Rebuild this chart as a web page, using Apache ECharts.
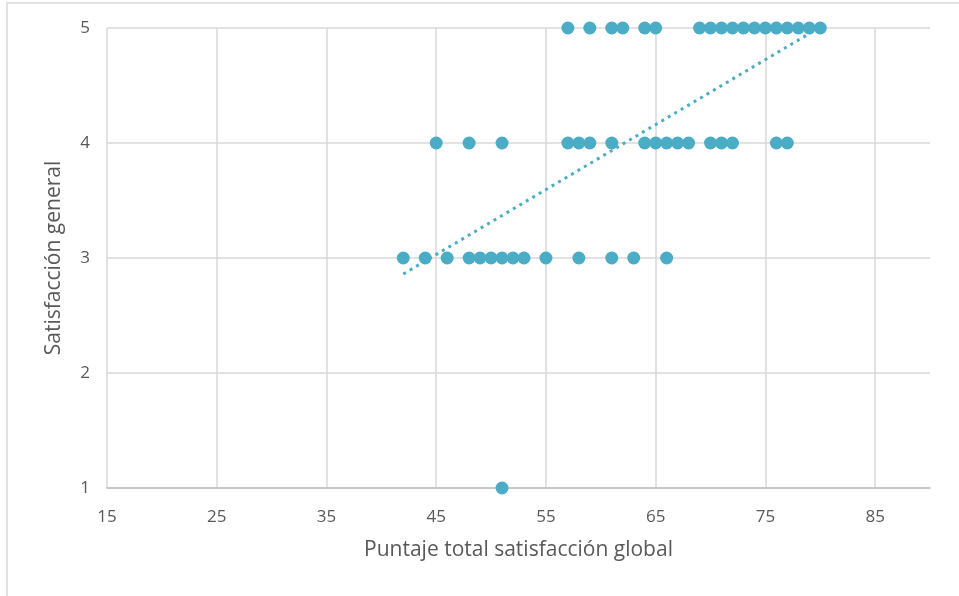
<!DOCTYPE html>
<html>
<head>
<meta charset="utf-8">
<script src="https://cdn.jsdelivr.net/npm/echarts@6/dist/echarts.min.js"></script>
<style>
  html, body { margin: 0; padding: 0; background: #ffffff; }
  #chart { width: 959px; height: 596px; }
</style>
</head>
<body>
<div id="chart"></div>
<script>
// Survey answers: total global-satisfaction score vs. overall satisfaction rating
const puntajeTotal = [
  57, 59, 61, 62, 64, 65, 69, 70, 71, 72, 73, 74, 75, 76, 77, 78, 79, 80,
  45, 48, 51, 57, 58, 59, 61, 64, 65, 66, 67, 68, 70, 71, 72, 76, 77,
  42, 44, 46, 48, 49, 50, 51, 52, 53, 55, 58, 61, 63, 66,
  51
];
const satisfaccionGeneral = [
  5, 5, 5, 5, 5, 5, 5, 5, 5, 5, 5, 5, 5, 5, 5, 5, 5, 5,
  4, 4, 4, 4, 4, 4, 4, 4, 4, 4, 4, 4, 4, 4, 4, 4, 4,
  3, 3, 3, 3, 3, 3, 3, 3, 3, 3, 3, 3, 3, 3,
  1
];
const xAxisTitle = 'Puntaje total satisfacción global';
const yAxisTitle = 'Satisfacción general';

const points = puntajeTotal.map((x, i) => [x, satisfaccionGeneral[i]]);

// Least-squares linear trend over the points, spanning the observed x range
function linearTrend(xs, ys) {
  const n = xs.length;
  const mx = xs.reduce((a, b) => a + b, 0) / n;
  const my = ys.reduce((a, b) => a + b, 0) / n;
  let sxy = 0, sxx = 0;
  for (let i = 0; i < n; i++) {
    sxy += (xs[i] - mx) * (ys[i] - my);
    sxx += (xs[i] - mx) * (xs[i] - mx);
  }
  const slope = sxy / sxx;
  const intercept = my - slope * mx;
  const x0 = Math.min(...xs), x1 = Math.max(...xs);
  return [[x0, intercept + slope * x0], [x1, intercept + slope * x1]];
}
const trend = linearTrend(puntajeTotal, satisfaccionGeneral);

const textColor = '#595959';
const gridColor = '#d9d9d9';
const markColor = '#4bacc6';
const font = 'Open Sans';

const chart = echarts.init(document.getElementById('chart'), null, { renderer: 'canvas' });
chart.setOption({
  animation: false,
  backgroundColor: '#ffffff',
  graphic: [{
    type: 'rect',
    shape: { x: 7, y: 3, width: 1000, height: 1000 },
    style: { fill: 'none', stroke: gridColor, lineWidth: 1.5 },
    silent: true
  }],
  grid: { left: 107, right: 29, top: 28, bottom: 108 },
  xAxis: {
    type: 'value',
    min: 15, max: 90, interval: 10,
    name: xAxisTitle,
    nameLocation: 'middle',
    nameGap: 52,
    nameTextStyle: { color: textColor, fontFamily: font, fontSize: 21 },
    axisLine: { show: true, lineStyle: { color: '#bfbfbf', width: 1.5 } },
    axisTick: { show: false },
    axisLabel: { color: textColor, fontFamily: font, fontSize: 17, margin: 21, showMaxLabel: false },
    splitLine: { show: true, showMaxLine: false, lineStyle: { color: gridColor, width: 1.5 } }
  },
  yAxis: {
    type: 'value',
    min: 1, max: 5, interval: 1,
    name: yAxisTitle,
    nameLocation: 'middle',
    nameGap: 42,
    nameTextStyle: { color: textColor, fontFamily: font, fontSize: 21 },
    axisLine: { show: false },
    axisTick: { show: false },
    axisLabel: { color: textColor, fontFamily: font, fontSize: 17, margin: 17 },
    splitLine: { show: true, lineStyle: { color: gridColor, width: 1.5 } }
  },
  series: [
    {
      type: 'scatter',
      data: points,
      symbol: 'circle',
      symbolSize: 13,
      itemStyle: { color: markColor, opacity: 1 },
      z: 2
    },
    {
      type: 'line',
      data: trend,
      showSymbol: false,
      symbol: 'none',
      lineStyle: { color: markColor, width: 3, type: [3, 4.5] },
      z: 3,
      silent: true
    }
  ]
});
</script>
</body>
</html>
